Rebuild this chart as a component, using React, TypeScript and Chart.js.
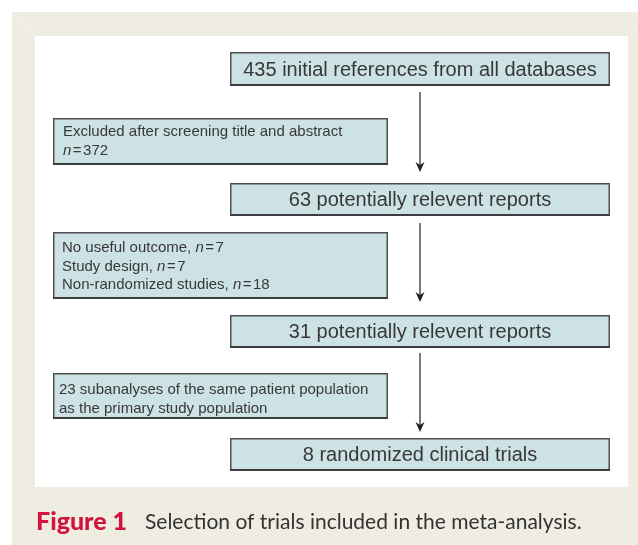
import React, { useEffect, useRef } from "react";
import { Chart, registerables } from "chart.js";

Chart.register(...registerables);

// ---- DATA ----
const mainCounts = [435, 63, 31, 8];
const mainLabels = [
  "initial references from all databases",
  "potentially relevent reports",
  "potentially relevent reports",
  "randomized clinical trials",
];
const exclusionText: string[][] = [
  ["Excluded after screening title and abstract", ""],
  ["No useful outcome, ", "Study design, ", "Non-randomized studies, "],
  ["23 subanalyses of the same patient population", "as the primary study population"],
];
const exclusionN: (number | null)[][] = [
  [null, 372],
  [7, 7, 18],
  [null, null],
];
const captionLabel = "Figure 1";
const captionText = "Selection of trials included in the meta-analysis.";

// ---- LAYOUT (layout units == pixels of the 638x545 frame) ----
const W = 638;
const H = 545;
const mainBoxX = [230, 610];
const mainBoxY = [
  [52, 86],
  [183, 216],
  [315, 348],
  [438, 471],
];
const sideBoxX = [53, 388];
const sideBoxY = [
  [118, 165],
  [232, 299],
  [373, 419],
];
const sideTextX = [63, 62, 59];
const sideFirstLineY = [132, 248, 390];
const sideLineGap = 18.5;
const arrowX = 420;
const arrowY = [
  [92, 172],
  [223, 302],
  [353, 432],
];

const BOX_FILL = "#cde2e5";
const BOX_STROKE = "#4d4f50";
const TEXT = "#383838";
const BEIGE = "#efece2";
const RED = "#d2143c";

const flowPlugin = {
  id: "flow",
  beforeDraw(chart: any) {
    const ctx: CanvasRenderingContext2D = chart.ctx;
    const sx = chart.scales.x;
    const sy = chart.scales.y;
    const px = (v: number) => sx.getPixelForValue(v);
    const py = (v: number) => sy.getPixelForValue(v);

    ctx.save();
    ctx.fillStyle = "#ffffff";
    ctx.fillRect(0, 0, chart.width, chart.height);
    ctx.fillStyle = BEIGE;
    ctx.fillRect(px(12), py(12), px(W) - px(12), py(H) - py(12));
    ctx.strokeStyle = "#f6f4ee";
    ctx.lineWidth = 1;
    ctx.beginPath();
    ctx.moveTo(px(12), py(12));
    ctx.lineTo(px(35), py(36));
    ctx.moveTo(px(638), py(27));
    ctx.lineTo(px(628), py(36));
    ctx.stroke();
    ctx.fillStyle = "#ffffff";
    ctx.fillRect(px(35), py(36), px(628) - px(35), py(487) - py(36));

    const drawBox = (x0: number, x1: number, y0: number, y1: number) => {
      const X0 = px(x0), X1 = px(x1), Y0 = py(y0), Y1 = py(y1);
      ctx.fillStyle = BOX_FILL;
      ctx.fillRect(X0, Y0, X1 - X0, Y1 - Y0);
      ctx.strokeStyle = BOX_STROKE;
      ctx.lineWidth = 1.5;
      ctx.strokeRect(X0 + 0.75, Y0 + 0.75, X1 - X0 - 1.5, Y1 - Y0 - 1.5);
      ctx.strokeStyle = "#3a3c3d";
      ctx.lineWidth = 2;
      ctx.beginPath();
      ctx.moveTo(X0, Y1 - 1);
      ctx.lineTo(X1, Y1 - 1);
      ctx.stroke();
    };

    ctx.textBaseline = "middle";
    mainCounts.forEach((c, i) => {
      const [y0, y1] = mainBoxY[i];
      drawBox(mainBoxX[0], mainBoxX[1], y0, y1);
      ctx.fillStyle = TEXT;
      ctx.font = "20px 'Liberation Sans', Arial, sans-serif";
      ctx.textAlign = "center";
      ctx.fillText(
        `${c} ${mainLabels[i]}`,
        px((mainBoxX[0] + mainBoxX[1]) / 2),
        py((y0 + y1) / 2 + 1)
      );
    });

    exclusionText.forEach((lines, i) => {
      const [y0, y1] = sideBoxY[i];
      drawBox(sideBoxX[0], sideBoxX[1], y0, y1);
      ctx.textAlign = "left";
      ctx.fillStyle = TEXT;
      lines.forEach((t, j) => {
        let x = px(sideTextX[i]);
        const y = py(sideFirstLineY[i] + j * sideLineGap);
        ctx.font = "15px 'Liberation Sans', Arial, sans-serif";
        if (t) {
          ctx.fillText(t, x, y);
          x += ctx.measureText(t).width;
        }
        const n = exclusionN[i][j];
        if (n !== null && n !== undefined) {
          ctx.font = "italic 15px 'Liberation Sans', Arial, sans-serif";
          ctx.fillText("n", x, y);
          x += ctx.measureText("n").width + 1.5;
          ctx.font = "15px 'Liberation Sans', Arial, sans-serif";
          ctx.fillText("=", x, y);
          x += ctx.measureText("=").width + 1.5;
          ctx.fillText(String(n), x, y);
        }
      });
    });

    ctx.strokeStyle = "#333333";
    ctx.fillStyle = "#222222";
    arrowY.forEach(([a, b]) => {
      const X = px(arrowX);
      ctx.lineWidth = 1.3;
      ctx.beginPath();
      ctx.moveTo(X, py(a));
      ctx.lineTo(X, py(b) - 6);
      ctx.stroke();
      ctx.beginPath();
      ctx.moveTo(X - 4.5, py(b) - 10);
      ctx.lineTo(X, py(b) - 7);
      ctx.lineTo(X + 4.5, py(b) - 10);
      ctx.lineTo(X, py(b));
      ctx.closePath();
      ctx.fill();
    });

    ctx.textAlign = "left";
    ctx.textBaseline = "alphabetic";
    ctx.fillStyle = RED;
    ctx.font = "900 25px Lato, 'Open Sans', sans-serif";
    ctx.fillText(captionLabel, px(36), py(530));
    ctx.fillStyle = "#333333";
    ctx.font = "21px Lato, 'Open Sans', sans-serif";
    ctx.fillText(captionText, px(145), py(529));
    ctx.restore();
  },
};

export default function App() {
  const ref = useRef<HTMLCanvasElement | null>(null);
  useEffect(() => {
    const canvas = ref.current;
    if (!canvas) return;
    const chart = new Chart(canvas, {
      type: "scatter",
      data: { datasets: [{ data: [], pointRadius: 0 }] },
      options: {
        animation: false,
        responsive: false,
        devicePixelRatio: 1,
        layout: { padding: 0 },
        plugins: { legend: { display: false }, tooltip: { enabled: false } },
        scales: {
          x: { type: "linear", min: 0, max: W, display: false },
          y: { type: "linear", min: 0, max: H, reverse: true, display: false },
        },
      },
      plugins: [flowPlugin],
    });
    return () => chart.destroy();
  }, []);
  return (
    <div style={{ position: "absolute", left: 0, top: 0, width: W, height: H }}>
      <canvas ref={ref} width={W} height={H} style={{ width: W, height: H, display: "block" }} />
    </div>
  );
}
